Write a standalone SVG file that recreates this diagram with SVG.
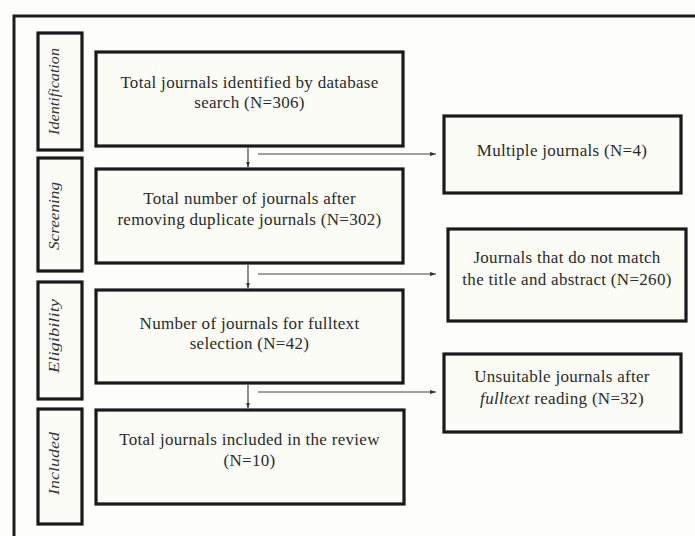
<svg xmlns="http://www.w3.org/2000/svg" width="695" height="536" viewBox="0 0 695 536">
<defs>
<style>
.frame{fill:none;stroke:#1e1e1e;stroke-width:3}
.box{fill:#fbfcf6;stroke:#1a1a1a;stroke-width:3.2}
.side{fill:#fbfcf6;stroke:#1a1a1a;stroke-width:3.2}
.t{font-family:"Liberation Serif","Times New Roman",serif;font-size:17px;letter-spacing:0.3px;fill:#2a2a2a;text-anchor:middle}
.s{font-family:"Liberation Serif","Times New Roman",serif;font-size:15px;font-style:italic;fill:#333;text-anchor:middle}
.c{fill:none;stroke:#444;stroke-width:1.2}
</style>
<marker id="ah" viewBox="0 0 6 6" refX="6" refY="3" markerWidth="6" markerHeight="6" orient="auto" markerUnits="userSpaceOnUse">
<path d="M0,1 L6,3 L0,5 z" fill="#333"/>
</marker>
</defs>
<rect x="0" y="0" width="695" height="536" fill="#fdfdfb"/>
<path class="frame" d="M14,545 V16 H700"/>

<g id="side-identification"><rect class="side" x="38" y="33" width="44" height="117"/><text class="s" transform="translate(58.5,91.5) rotate(-90)" textLength="87" lengthAdjust="spacingAndGlyphs">Identification</text></g>
<g id="side-screening"><rect class="side" x="38" y="158" width="44" height="113"/><text class="s" transform="translate(58.5,216) rotate(-90)" textLength="68" lengthAdjust="spacingAndGlyphs">Screening</text></g>
<g id="side-eligibility"><rect class="side" x="38" y="282" width="44" height="117"/><text class="s" transform="translate(58.5,336) rotate(-90)" textLength="74" lengthAdjust="spacingAndGlyphs">Eligibility</text></g>
<g id="side-included"><rect class="side" x="38" y="409" width="44" height="115"/><text class="s" transform="translate(58.5,463.5) rotate(-90)" textLength="63" lengthAdjust="spacingAndGlyphs">Included</text></g>

<g id="box1"><rect class="box" x="96" y="52" width="307" height="94"/><text class="t" x="249.5" y="88">Total journals identified by database</text><text class="t" x="249.5" y="108">search (N=306)</text></g>
<g id="box2"><rect class="box" x="96" y="169" width="307" height="94"/><text class="t" x="249.5" y="204">Total number of journals after</text><text class="t" x="249.5" y="225">removing duplicate journals (N=302)</text></g>
<g id="box3"><rect class="box" x="96" y="290" width="307" height="93"/><text class="t" x="249.5" y="329">Number of journals for fulltext</text><text class="t" x="249.5" y="349">selection (N=42)</text></g>
<g id="box4"><rect class="box" x="96" y="410" width="308" height="94"/><text class="t" x="249.5" y="445">Total journals included in the review</text><text class="t" x="249.5" y="466">(N=10)</text></g>

<g id="excl1"><rect class="box" x="444" y="116" width="237" height="77"/><text class="t" x="562" y="156">Multiple journals (N=4)</text></g>
<g id="excl2"><rect class="box" x="448" y="229" width="238" height="92"/><text class="t" x="567" y="263">Journals that do not match</text><text class="t" x="567" y="285">the title and abstract (N=260)</text></g>
<g id="excl3"><rect class="box" x="444" y="354" width="237" height="78"/><text class="t" x="562" y="382">Unsuitable journals after</text><text class="t" x="562" y="404"><tspan font-style="italic">fulltext</tspan> reading (N=32)</text></g>

<g id="connectors">
<line class="c" x1="248" y1="147.5" x2="248" y2="167.5" marker-end="url(#ah)"/>
<line class="c" x1="248" y1="264.5" x2="248" y2="288.5" marker-end="url(#ah)"/>
<line class="c" x1="248" y1="384.5" x2="248" y2="408.5" marker-end="url(#ah)"/>
<line class="c" x1="258" y1="154" x2="436" y2="154" marker-end="url(#ah)"/>
<line class="c" x1="258" y1="274" x2="436" y2="274" marker-end="url(#ah)"/>
<line class="c" x1="258" y1="392" x2="436" y2="392" marker-end="url(#ah)"/>
</g>
</svg>
